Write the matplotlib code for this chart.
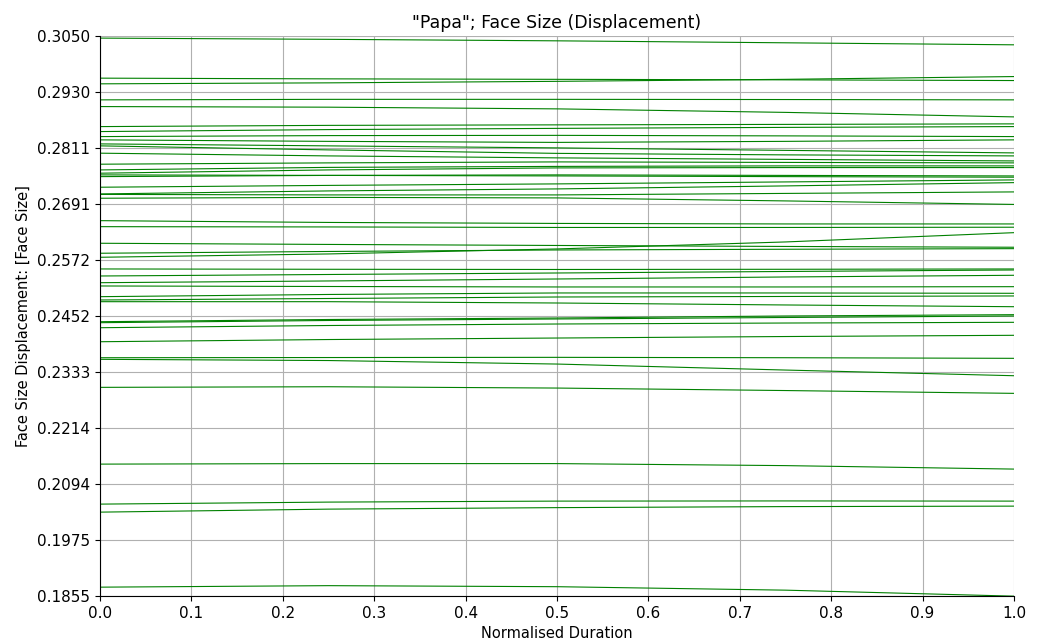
import numpy as np
import matplotlib
matplotlib.use("Agg")
import matplotlib.pyplot as plt

# normalised duration sample points
x = [0.0, 0.25, 0.5, 0.75, 1.0]

# face size displacement per token
lines = [
    [0.30451, 0.30425, 0.30393, 0.30351, 0.30308],
    [0.29597, 0.29582, 0.29572, 0.29561, 0.29546],
    [0.29476, 0.29497, 0.29529, 0.29572, 0.29631],
    [0.29134, 0.29145, 0.29145, 0.29141, 0.29134],
    [0.28991, 0.28978, 0.28942, 0.28867, 0.28771],
    [0.28564, 0.28590, 0.28601, 0.28611, 0.28622],
    [0.28458, 0.28500, 0.28526, 0.28547, 0.28564],
    [0.28351, 0.28372, 0.28377, 0.28366, 0.28351],
    [0.28281, 0.28249, 0.28227, 0.28249, 0.28281],
    [0.28195, 0.28153, 0.28110, 0.28057, 0.28003],
    [0.28153, 0.28067, 0.27993, 0.27961, 0.27939],
    [0.27997, 0.27939, 0.27897, 0.27865, 0.27832],
    [0.27762, 0.27790, 0.27811, 0.27800, 0.27790],
    [0.27640, 0.27694, 0.27715, 0.27726, 0.27726],
    [0.27570, 0.27640, 0.27683, 0.27690, 0.27690],
    [0.27497, 0.27523, 0.27534, 0.27523, 0.27512],
    [0.27534, 0.27523, 0.27512, 0.27497, 0.27485],
    [0.27271, 0.27310, 0.27342, 0.27384, 0.27427],
    [0.27128, 0.27192, 0.27235, 0.27299, 0.27369],
    [0.27118, 0.27107, 0.27107, 0.27139, 0.27171],
    [0.27036, 0.27054, 0.27043, 0.26979, 0.26904],
    [0.26558, 0.26520, 0.26499, 0.26488, 0.26488],
    [0.26430, 0.26424, 0.26413, 0.26413, 0.26418],
    [0.26076, 0.26051, 0.26029, 0.26008, 0.25991],
    [0.25863, 0.25901, 0.25933, 0.25948, 0.25961],
    [0.25777, 0.25848, 0.25955, 0.26104, 0.26302],
    [0.25528, 0.25521, 0.25517, 0.25521, 0.25528],
    [0.25378, 0.25410, 0.25442, 0.25474, 0.25506],
    [0.25235, 0.25272, 0.25314, 0.25357, 0.25393],
    [0.25165, 0.25154, 0.25144, 0.25144, 0.25150],
    [0.24937, 0.24984, 0.25016, 0.25016, 0.25009],
    [0.24866, 0.24898, 0.24930, 0.24941, 0.24952],
    [0.24830, 0.24830, 0.24802, 0.24760, 0.24723],
    [0.24403, 0.24450, 0.24482, 0.24525, 0.24553],
    [0.24382, 0.24429, 0.24461, 0.24493, 0.24525],
    [0.24275, 0.24322, 0.24354, 0.24375, 0.24390],
    [0.23976, 0.24023, 0.24055, 0.24087, 0.24113],
    [0.23635, 0.23639, 0.23643, 0.23635, 0.23622],
    [0.23601, 0.23575, 0.23500, 0.23372, 0.23251],
    [0.23003, 0.23016, 0.22988, 0.22935, 0.22875],
    [0.21366, 0.21377, 0.21377, 0.21334, 0.21260],
    [0.20513, 0.20556, 0.20577, 0.20581, 0.20577],
    [0.20342, 0.20406, 0.20438, 0.20460, 0.20470],
    [0.18742, 0.18774, 0.18752, 0.18678, 0.18550],
]

ymin, ymax = 0.18553, 0.30496
yticks = np.linspace(ymin, ymax, 11)

fig = plt.figure(figsize=(10.4, 6.44), dpi=100)
ax = fig.add_axes([0.0962, 0.0745, 0.8788, 0.8696])

for y in lines:
    ax.plot(x, y, color='green', linewidth=0.8)

ax.set_xlim(0, 1)
ax.set_ylim(ymin, ymax)
ax.set_xticks(np.arange(0, 1.01, 0.1))
ax.set_xticklabels(['%.1f' % t for t in np.arange(0, 1.01, 0.1)], fontsize=11)
ax.set_yticks(yticks)
ax.set_yticklabels(['%.4f' % t for t in yticks], fontsize=11)
ax.grid(True, color='#b0b0b0', linewidth=0.8)
ax.spines['top'].set_visible(False)
ax.spines['right'].set_visible(False)

ax.set_title('"Papa"; Face Size (Displacement)', fontsize=12.5)
ax.set_xlabel('Normalised Duration', fontsize=10.5)
ax.set_ylabel('Face Size Displacement: [Face Size]', fontsize=10.5)

fig.savefig('out.png', dpi=100)
